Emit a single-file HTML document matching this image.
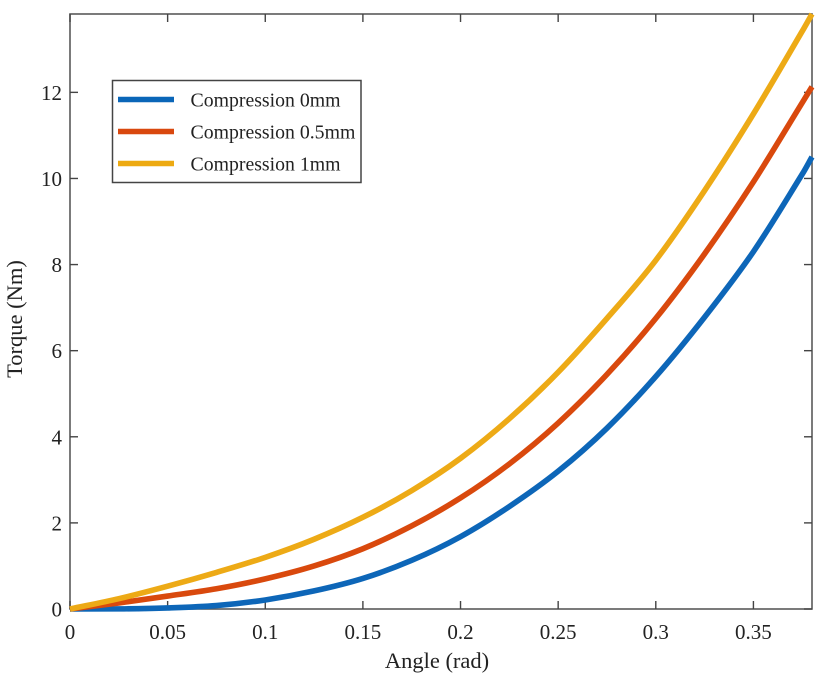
<!DOCTYPE html>
<html lang="en">
<head>
<meta charset="utf-8">
<title>Torque vs Angle</title>
<style>
html,body{margin:0;padding:0;background:#fff;}
body{width:827px;height:680px;overflow:hidden;}
svg{display:block;font-family:"Liberation Serif",serif;}
text{fill:#222;}
</style>
</head>
<body>
<svg id="chart" width="827" height="680" viewBox="0 0 827 680" xmlns="http://www.w3.org/2000/svg">
  <defs>
    <filter id="soft" x="-5%" y="-5%" width="110%" height="110%"><feGaussianBlur stdDeviation="0.35"/></filter>
  </defs>
  <g id="axes"></g>
  <g id="series" filter="url(#soft)"></g>
  <text x="437" y="668" text-anchor="middle" font-size="22.5">Angle (rad)</text>
  <text transform="translate(22,319) rotate(-90)" text-anchor="middle" font-size="22.5">Torque (Nm)</text>
  <g id="legend"></g>
</svg>
<script>
const angles = [0, 0.025, 0.05, 0.075, 0.1, 0.125, 0.15, 0.175, 0.2, 0.225, 0.25, 0.275, 0.3, 0.325, 0.35, 0.375, 0.38];
const torque0mm = [0, 0.003, 0.025, 0.08, 0.21, 0.42, 0.71, 1.13, 1.68, 2.38, 3.2, 4.2, 5.4, 6.78, 8.3, 10.1, 10.5];
const torque05mm = [0, 0.14, 0.3, 0.47, 0.7, 1.0, 1.4, 1.93, 2.58, 3.37, 4.32, 5.45, 6.75, 8.25, 9.92, 11.76, 12.13];
const torque1mm = [0, 0.24, 0.53, 0.85, 1.2, 1.62, 2.13, 2.75, 3.5, 4.42, 5.5, 6.75, 8.1, 9.72, 11.5, 13.42, 13.82];
const seriesNames = ["Compression 0mm", "Compression 0.5mm", "Compression 1mm"];
const xTicks = [0, 0.05, 0.1, 0.15, 0.2, 0.25, 0.3, 0.35];
const yTicks = [0, 2, 4, 6, 8, 10, 12];

const plot = {left: 70, right: 812, top: 14, bottom: 609};
const xMax = 0.38;
const yMax = 13.82;
const colors = ["#0a66b8", "#d9480f", "#edaa12"];
const NS = "http://www.w3.org/2000/svg";
const xScale = v => plot.left + (v / xMax) * (plot.right - plot.left);
const yScale = v => plot.bottom - (v / yMax) * (plot.bottom - plot.top);

function mk(tag, parent, attrs, txt) {
  const e = document.createElementNS(NS, tag);
  for (const k in attrs) e.setAttribute(k, attrs[k]);
  if (txt !== undefined) e.textContent = txt;
  parent.appendChild(e);
  return e;
}

const axes = document.getElementById("axes");
const frame = mk("rect", axes, {x: plot.left, y: plot.top, width: plot.right - plot.left, height: plot.bottom - plot.top, fill: "none", stroke: "#5a5a5a", "stroke-width": 1.6});



xTicks.forEach(v => {
  const x = xScale(v);
  const b = mk("line", axes, {x1: x, x2: x, y1: plot.bottom, y2: plot.bottom - 8, stroke: "#444", "stroke-width": 1.4});
  
  
  const t = mk("line", axes, {x1: x, x2: x, y1: plot.top, y2: plot.top + 8, stroke: "#444", "stroke-width": 1.4});
  
  
  const l = mk("text", axes, {x: x, y: 639, "text-anchor": "middle", "font-size": 21}, String(v));
  
  
});

yTicks.forEach(v => {
  const y = yScale(v);
  const a = mk("line", axes, {x1: plot.left, x2: plot.left + 8, y1: y, y2: y, stroke: "#444", "stroke-width": 1.4});
  
  
  const r = mk("line", axes, {x1: plot.right, x2: plot.right - 8, y1: y, y2: y, stroke: "#444", "stroke-width": 1.4});
  
  
  const l = mk("text", axes, {x: 62, y: y + 7.5, "text-anchor": "end", "font-size": 21}, String(v));
  
  
});

function curve(values) {
  const n = angles.length;
  const px = angles.map(xScale);
  const py = values.map(yScale);
  const slope = i => {
    if (i === 0) return (py[1] - py[0]) / (px[1] - px[0]);
    if (i === n - 1) return (py[n - 1] - py[n - 2]) / (px[n - 1] - px[n - 2]);
    return (py[i + 1] - py[i - 1]) / (px[i + 1] - px[i - 1]);
  };
  let d = "M" + px[0].toFixed(2) + " " + py[0].toFixed(2);
  for (let i = 0; i < n - 1; i++) {
    const h = (px[i + 1] - px[i]) / 3;
    d += " C" + (px[i] + h).toFixed(2) + " " + (py[i] + slope(i) * h).toFixed(2) + " " +
      (px[i + 1] - h).toFixed(2) + " " + (py[i + 1] - slope(i + 1) * h).toFixed(2) + " " +
      px[i + 1].toFixed(2) + " " + py[i + 1].toFixed(2);
  }
  return d;
}

const seriesGroup = document.getElementById("series");
const seriesValues = [torque0mm, torque05mm, torque1mm];
seriesValues.forEach((vals, i) => {
  const p = mk("path", seriesGroup, {d: curve(vals), fill: "none", stroke: colors[i], "stroke-width": 5.6});
  
  
});

const legend = document.getElementById("legend");
const box = mk("rect", legend, {x: 112.5, y: 80.5, width: 248.5, height: 102, fill: "#fff", stroke: "#444", "stroke-width": 1.5});


const rowY = [99.5, 131.5, 163.5];
seriesNames.forEach((name, i) => {
  const sw = mk("line", legend, {x1: 118, x2: 174, y1: rowY[i], y2: rowY[i], stroke: colors[i], "stroke-width": 5.4});
  
  
  const t = mk("text", legend, {x: 190.5, y: rowY[i] + 7, "font-size": 19.8}, name);
  
  
});
</script>
</body>
</html>
